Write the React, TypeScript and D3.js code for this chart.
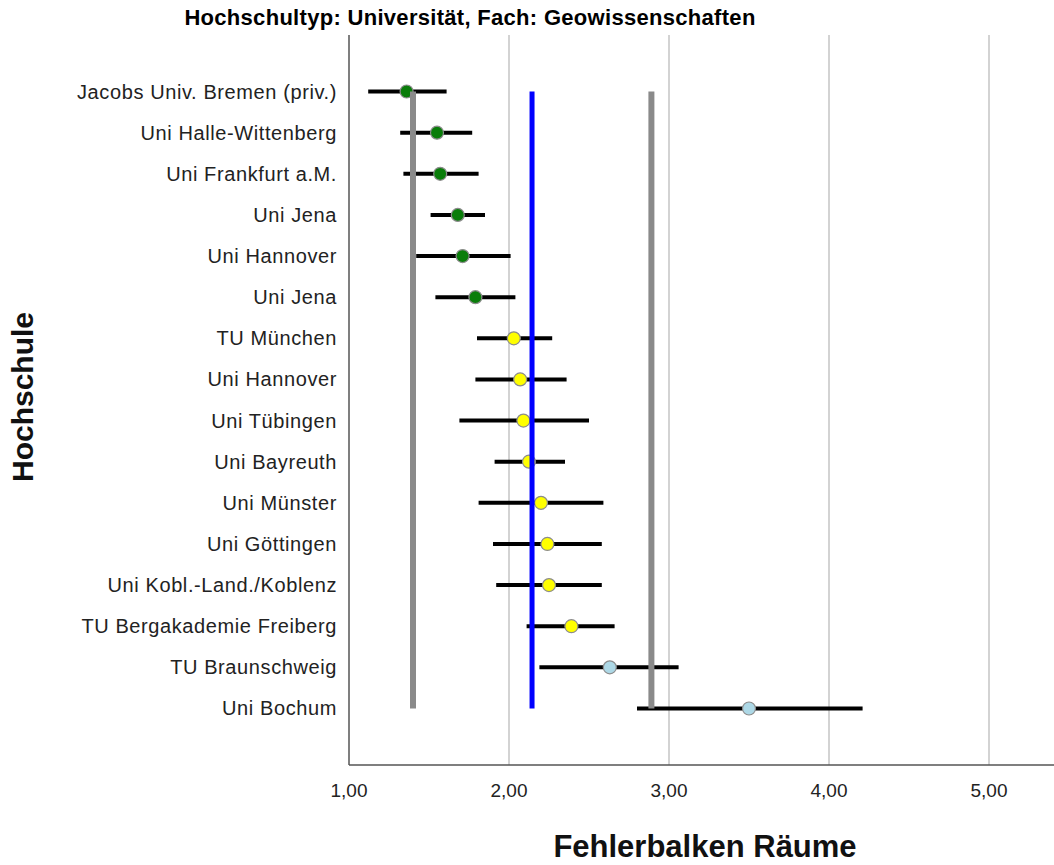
import * as d3 from "d3";

// Hochschulen, top to bottom
const schools = [
  "Jacobs Univ. Bremen (priv.)",
  "Uni Halle-Wittenberg",
  "Uni Frankfurt a.M.",
  "Uni Jena",
  "Uni Hannover",
  "Uni Jena",
  "TU München",
  "Uni Hannover",
  "Uni Tübingen",
  "Uni Bayreuth",
  "Uni Münster",
  "Uni Göttingen",
  "Uni Kobl.-Land./Koblenz",
  "TU Bergakademie Freiberg",
  "TU Braunschweig",
  "Uni Bochum",
];
const means = [1.36, 1.55, 1.57, 1.68, 1.71, 1.79, 2.03, 2.07, 2.09, 2.125, 2.2, 2.24, 2.25, 2.39, 2.63, 3.5];
const lower = [1.12, 1.32, 1.34, 1.51, 1.42, 1.54, 1.8, 1.79, 1.69, 1.91, 1.81, 1.9, 1.92, 2.11, 2.19, 2.8];
const upper = [1.61, 1.77, 1.81, 1.85, 2.01, 2.04, 2.27, 2.36, 2.5, 2.35, 2.59, 2.58, 2.58, 2.66, 3.06, 4.21];
const groups = ["gut", "gut", "gut", "gut", "gut", "gut", "mittel", "mittel", "mittel", "mittel", "mittel", "mittel", "mittel", "mittel", "schlecht", "schlecht"];

const xTicks = [1, 2, 3, 4, 5];
const refLines = [
  { key: "low", value: 1.4 },
  { key: "mean", value: 2.144 },
  { key: "high", value: 2.89 },
];

const W = 1054;
const H = 865;
const PLOT = { left: 349, right: 1054, top: 35, bottom: 765 };
const FONT = "'Liberation Sans', Arial, sans-serif";

const dotFill: Record<string, string> = { gut: "#0a7d0a", mittel: "#ffff00", schlecht: "#add8e6" };
const refStyle: Record<string, { color: string; width: number }> = {
  low: { color: "#8a8a8a", width: 6 },
  mean: { color: "#0000ff", width: 5 },
  high: { color: "#8a8a8a", width: 6 },
};

export default function App() {
  const x = d3.scaleLinear().domain([1, 1 + (PLOT.right - PLOT.left) / 160]).range([PLOT.left, PLOT.right]);
  const idx = schools.map((_, i) => i);
  const y = d3.scalePoint<number>().domain(idx).range([PLOT.top, PLOT.bottom]).padding(1.374);
  const yFirst = y(0)!;
  const yLast = y(idx.length - 1)!;
  const fmt = (v: number) => d3.format(".2f")(v).replace(".", ",");

  return (
    <svg width={W} height={H} style={{ position: "absolute", left: 0, top: 0, background: "#fff" }} fontFamily={FONT}>
      <rect width={W} height={H} fill="#fff" />
      <text x={470} y={25} textAnchor="middle" fontSize={22} fontWeight="bold" letterSpacing={0.3} fill="#000">
        Hochschultyp: Universität, Fach: Geowissenschaften
      </text>

      {xTicks.slice(1).map((t) => (
        <line key={t} x1={x(t)} x2={x(t)} y1={PLOT.top} y2={PLOT.bottom} stroke="#c4c4c4" strokeWidth={1.5} />
      ))}
      <line x1={PLOT.left} x2={PLOT.left} y1={PLOT.top} y2={PLOT.bottom} stroke="#555" strokeWidth={1.5} />
      <line x1={PLOT.left} x2={PLOT.right} y1={PLOT.bottom} y2={PLOT.bottom} stroke="#555" strokeWidth={1.5} />

      {xTicks.map((t) => (
        <text key={t} x={x(t)} y={797} textAnchor="middle" fontSize={19} fill="#222">
          {fmt(t)}
        </text>
      ))}

      {schools.map((s, i) => (
        <text key={i} x={337} y={y(i)!} dy="0.35em" textAnchor="end" fontSize={20} letterSpacing={0.6} fill="#222">
          {s}
        </text>
      ))}

      {idx.map((i) => (
        <line key={i} x1={x(lower[i])} x2={x(upper[i])} y1={y(i)!} y2={y(i)!} stroke="#000" strokeWidth={4} />
      ))}

      {idx.map((i) => (
        <circle key={i} cx={x(means[i])} cy={y(i)!} r={6.5} fill={dotFill[groups[i]]} stroke="#8c8c8c" strokeWidth={1.2} />
      ))}

      {refLines.map((r) => (
        <line
          key={r.key}
          x1={x(r.value)}
          x2={x(r.value)}
          y1={yFirst}
          y2={yLast}
          stroke={refStyle[r.key].color}
          strokeWidth={refStyle[r.key].width}
        />
      ))}

      <text
        transform={`translate(33,397) rotate(-90)`}
        textAnchor="middle"
        fontSize={30}
        fontWeight="bold"
        fill="#111"
      >
        Hochschule
      </text>
      <text x={705} y={857} textAnchor="middle" fontSize={31} fontWeight="bold" fill="#111">
        Fehlerbalken Räume
      </text>
    </svg>
  );
}
